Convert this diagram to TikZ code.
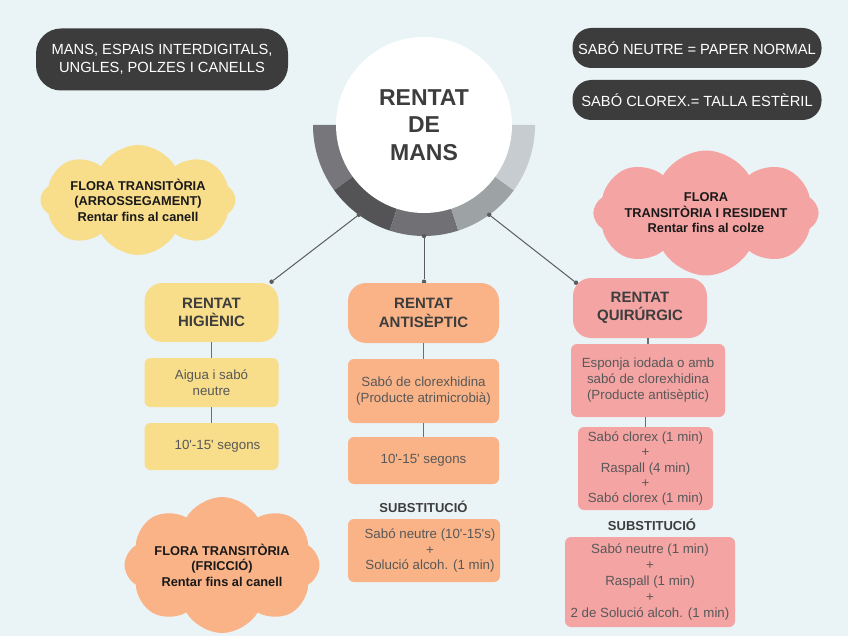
\documentclass[tikz,border=0pt]{standalone}
\usepackage{fontspec}
\setmainfont{Liberation Sans}
\usepackage{xcolor}
\usetikzlibrary{shapes.symbols, calc}

\definecolor{bgcol}{HTML}{EAF4F6}
\definecolor{darkbox}{HTML}{3C3C3C}
\definecolor{higcol}{HTML}{F8DD8A}
\definecolor{antcol}{HTML}{F9B387}
\definecolor{quicol}{HTML}{F5A4A4}
\definecolor{txtgray}{HTML}{585858}
\definecolor{ttlgray}{HTML}{3D3D3D}
\definecolor{linegray}{HTML}{5C5C5C}
\definecolor{stemgray}{HTML}{6E6E6E}
\definecolor{ringa}{HTML}{77777B}
\definecolor{ringb}{HTML}{545457}
\definecolor{ringc}{HTML}{717175}
\definecolor{ringd}{HTML}{9DA2A4}
\definecolor{ringe}{HTML}{C6CCCF}

\begin{document}
\begin{tikzpicture}[
    x=1pt, y=-1pt,
    hub/.style={circle, fill=white, minimum size=176pt, inner sep=0pt, align=center, font=\fontsize{23}{27.5}\selectfont\bfseries, text=ttlgray},
    note/.style={rectangle, rounded corners=19pt, fill=darkbox, text=white, align=center, inner sep=0pt, font=\fontsize{14.7}{18.3}\selectfont},
    head/.style={rectangle, rounded corners=18pt, align=center, inner sep=0pt, font=\fontsize{15}{18.3}\selectfont\bfseries, text=ttlgray},
    item/.style={rectangle, rounded corners=6pt, align=center, inner sep=0pt, font=\fontsize{13.3}{16}\selectfont, text=txtgray},
    flora/.style={cloud, cloud puffs=8, cloud puff arc=120, cloud ignores aspect, align=center, inner sep=0pt, font=\fontsize{12.8}{15.5}\selectfont\bfseries, text=black!90},
    subst/.style={font=\fontsize{13}{15}\selectfont\bfseries, text=ttlgray},
    dot/.style={circle, fill=linegray, inner sep=0pt, minimum size=4.5pt},
    link/.style={draw=linegray, line width=1pt},
    stem/.style={draw=stemgray, line width=1.8pt}
]

% Background
\useasboundingbox (0,0) rectangle (848,636);
\fill[bgcol] (0,0) rectangle (848,636);

% Notes
\node[note, minimum width=252pt, minimum height=62pt, rounded corners=25pt] (parts) at (162,59.5) {MANS, ESPAIS INTERDIGITALS,\\UNGLES, POLZES I CANELLS};
\node[note, minimum width=249pt, minimum height=40pt] (neutre) at (697,48) {SABÓ NEUTRE = PAPER NORMAL};
\node[note, minimum width=249pt, minimum height=40pt] (clorex) at (697,100) {SABÓ CLOREX.= TALLA ESTÈRIL};

% Ring
\coordinate (c) at (424,125);
\foreach \a/\b/\col in {180/144/ringa, 144/108/ringb, 108/72/ringc, 72/36/ringd, 36/0/ringe}
    \fill[\col] (c) -- ($(c)+(\a:111)$) arc[start angle=\a, end angle=\b, radius=111] -- cycle;

% Root
\node[hub] (root) at (c) {RENTAT\\DE\\MANS};

% Dots on the ring and above the heads
\foreach \n/\a in {1/126, 2/90, 3/54}
    \node[dot] (r\n) at ($(c)+(\a:111)$) {};
\node[dot] (e1) at (271.6,281.7) {};
\node[dot] (e2) at (424,281.7) {};
\node[dot] (e3) at (576,282.7) {};
\foreach \n in {1,2,3}
    \draw[link] (r\n) -- (e\n);

% Heads
\node[head, fill=higcol, minimum width=134pt, minimum height=59pt] (hig) at (211.5,312.5) {RENTAT\\HIGIÈNIC};
\node[head, fill=antcol, minimum width=151pt, minimum height=60pt] (ant) at (423.5,313) {RENTAT\\ANTISÈPTIC};
\node[head, fill=quicol, minimum width=134pt, minimum height=60pt] (qui) at (640,308) {RENTAT\\QUIRÚRGIC};

% Items, hygienic
\node[item, fill=higcol, minimum width=134pt, minimum height=49pt] (hig1) at (211.5,382.5) {Aigua i sabó\\neutre};
\node[item, fill=higcol, minimum width=134pt, minimum height=47pt] (hig2) at (211.5,446.5) {\hspace{12pt}10\textquotesingle-15\textquotesingle{} segons};

% Items, antiseptic
\node[item, fill=antcol, minimum width=151pt, minimum height=64pt] (ant1) at (423.5,391) {Sabó de clorexhidina\\(Producte atrimicrobià)};
\node[item, fill=antcol, minimum width=151pt, minimum height=47pt] (ant2) at (423.5,460.5) {10\textquotesingle-15\textquotesingle{} segons};
\node[subst] (ant3) at (423.5,507) {SUBSTITUCIÓ};
\node[item, fill=antcol, minimum width=152pt, minimum height=63pt, font=\fontsize{13.3}{15.5}\selectfont] (ant4) at (424,550.5) {\hspace{12pt}Sabó neutre (10\textquotesingle-15\textquotesingle s)\\\hspace{12pt}+\\\hspace{12pt}Solució alcoh. (1 min)};

% Items, surgical
\node[item, fill=quicol, minimum width=154pt, minimum height=73pt] (qui1) at (648,380.5) {Esponja iodada o amb\\sabó de clorexhidina\\(Producte antisèptic)};
\node[item, fill=quicol, minimum width=135pt, minimum height=83pt, font=\fontsize{13.3}{15.2}\selectfont] (qui2) at (645.5,468.5) {Sabó clorex (1 min)\\+\\Raspall (4 min)\\+\\Sabó clorex (1 min)};
\node[subst] (qui3) at (652,525) {SUBSTITUCIÓ};
\node[item, fill=quicol, minimum width=170pt, minimum height=90pt, font=\fontsize{13.3}{15.8}\selectfont] (qui4) at (650,582) {Sabó neutre (1 min)\\+\\Raspall (1 min)\\+\\2 de Solució alcoh. (1 min)};

% Stems between boxes
\foreach \a/\b in {hig/hig1, hig1/hig2, ant/ant1, ant1/ant2, qui/qui1, qui1/qui2}
    \draw[stem] (\b.north) -- (\a.south -| \b.north);

% Clouds
\node[flora, fill=higcol, minimum width=195pt, minimum height=110pt] (flora1) at (138,200) {FLORA TRANSITÒRIA\\(ARROSSEGAMENT)\\Rentar fins al canell};
\node[flora, fill=quicol, minimum width=195pt, minimum height=125pt] (flora2) at (706,213) {FLORA\\TRANSITÒRIA I RESIDENT\\Rentar fins al colze};
\node[flora, fill=antcol, minimum width=195pt, minimum height=136pt] (flora3) at (222,565) {FLORA TRANSITÒRIA\\(FRICCIÓ)\\Rentar fins al canell};

\end{tikzpicture}
\end{document}
